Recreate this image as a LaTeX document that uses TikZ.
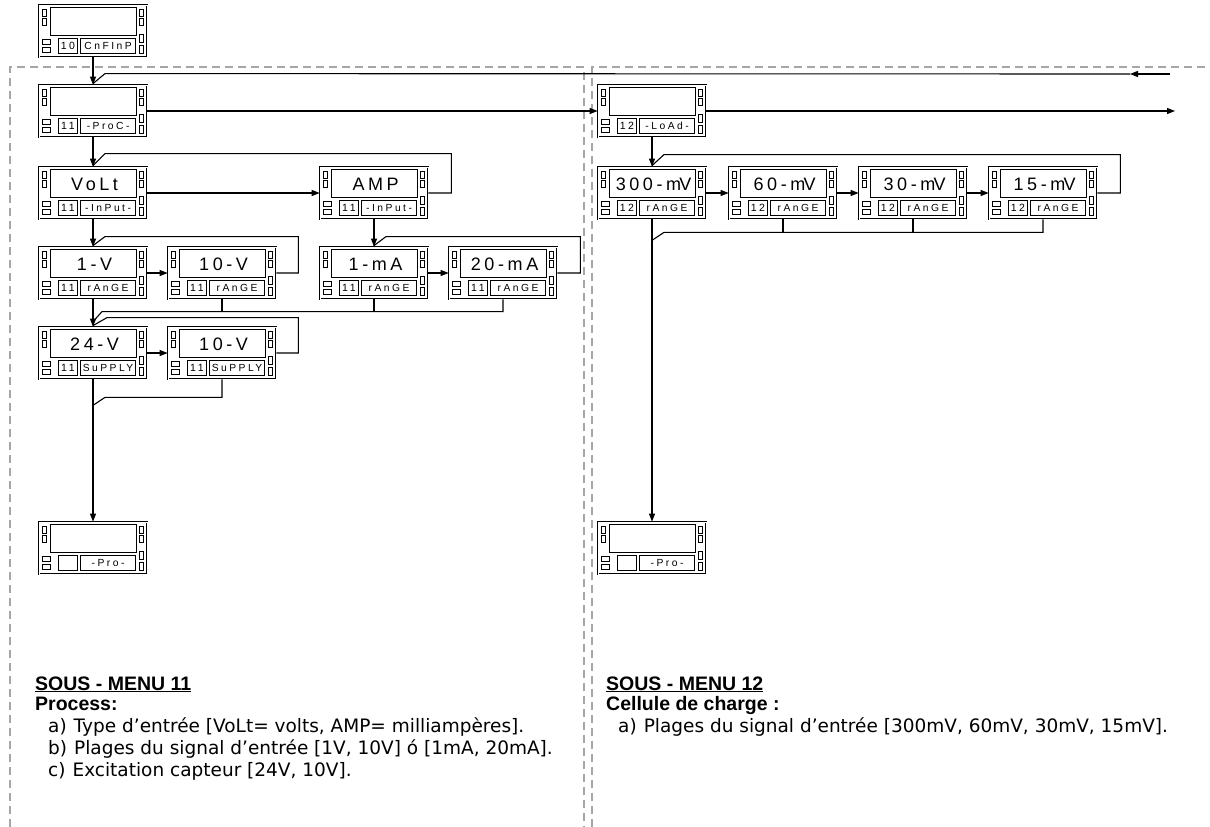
\documentclass[tikz,border=0pt]{standalone}
\usepackage{fontspec}
\setmainfont{DejaVu Sans}
\newfontfamily\lsans{Liberation Sans}
\newfontfamily\dispfont[LetterSpace=20]{Liberation Sans}
\newfontfamily\labfont[LetterSpace=24]{Liberation Sans}
\usetikzlibrary{arrows.meta,calc}
\tikzset{
  devbox/.style={draw, line width=0.8pt, double=white, double distance=0.9pt, minimum width=108pt, minimum height=52pt, inner sep=0pt},
  dispbox/.style={draw, line width=1.2pt},
  smallbox/.style={draw, line width=0.9pt},
  bigtxt/.style={font=\dispfont\fontsize{18}{18}\selectfont, inner sep=0pt, anchor=base},
  numtxt/.style={font=\labfont\fontsize{10.5}{10.5}\selectfont, inner sep=0pt, anchor=base},
  labtxt/.style={font=\labfont\fontsize{10.3}{10.3}\selectfont, inner sep=0pt, anchor=base},
  conn/.style={draw, line width=1.1pt},
  arr/.style={conn, -{Triangle[length=8pt,width=6pt]}},
  dframe/.style={draw=black!35, line width=1.1pt, dash pattern=on 8pt off 5pt},
  head/.style={font=\lsans\bfseries\fontsize{19.5}{19.5}\selectfont, anchor=base west, inner sep=0pt},
  body/.style={font=\fontsize{18.5}{18.5}\selectfont, anchor=base west, inner sep=0pt},
}
\newcommand\device[6]{%
  \node[devbox] (#1) at (#2+54,#3+26) {};
  \begin{scope}[shift={(#1.north west)}]
    \draw[dispbox] (11.5,2.5) rectangle (97.5,30.5);
    \draw[smallbox] (3.8,4.8) rectangle (7.8,11.8) (3.8,14) rectangle (7.8,21)
      (100.8,4.8) rectangle (104.8,11.8) (100.8,14) rectangle (104.8,21)
      (100.8,29.5) rectangle (104.8,38) (100.8,40.5) rectangle (104.8,49)
      (3.8,35) rectangle (12,40.3) (3.8,42.5) rectangle (12,47.8)
      (19.5,33.5) rectangle (38.5,49) (41.5,33.5) rectangle (96.5,49);
    \node[bigtxt] (#1-t) at (56,23.5) {#4};
    \node[numtxt] (#1-n) at (29.3,45.3) {#5};
    \node[labtxt] (#1-l) at (69.5,45.3) {#6};
  \end{scope}}
\begin{document}
\begin{tikzpicture}[x=1pt,y=-1pt]
\useasboundingbox (0,0) rectangle (1210,827);
% frames
\draw[dframe] (10,827) -- (10,67) -- (584,67) -- (584,827);
\draw[dframe] (592,827) -- (592,67) -- (1210,67);
% devices
\device{d10}{39}{5}{}{10}{CnFInP}
\device{d11}{39}{85}{}{11}{-ProC-}
\device{volt}{39}{167}{VoLt}{11}{-InPut-}
\device{amp}{320}{167}{AMP}{11}{-InPut-}
\device{v1}{39}{247}{1-V}{11}{rAnGE}
\device{v10}{168}{247}{10-V}{11}{rAnGE}
\device{ma1}{320}{247}{1-mA}{11}{rAnGE}
\device{ma20}{449}{247}{20-mA}{11}{rAnGE}
\device{s24}{39}{327}{24-V}{11}{SuPPLY}
\device{s10}{168}{327}{10-V}{11}{SuPPLY}
\device{pro1}{39}{522}{}{}{-Pro-}
\device{d12}{598}{85}{}{12}{-LoAd-}
\device{mv300}{598}{167}{300-m\kern-1.8pt V}{12}{rAnGE}
\device{mv60}{729}{167}{60-m\kern-1.8pt V}{12}{rAnGE}
\device{mv30}{859}{167}{30-m\kern-1.8pt V}{12}{rAnGE}
\device{mv15}{989}{167}{15-m\kern-1.8pt V}{12}{rAnGE}
\device{pro2}{598}{522}{}{}{-Pro-}
% top connectors
\draw[arr] (d10.south) -- (d11.north);
\coordinate (retR) at (1170,74);
\coordinate (retM) at (1130,74);
\draw[arr] (retR) -- (retM);
\draw[conn] (retM) -- ($(d11.north)+(12,-11)$) -- ($(d11.north)+(0,-1)$);
\draw[arr] (d11.east) -- (d12.west);
\coordinate (outR) at (1175,111);
\draw[arr] (d12.east) -- (outR);
% submenu 11
\draw[arr] (d11.south) -- (volt.north);
\draw[conn] (amp.east) -- ++(23,0) |- ($(volt.north)+(12,-13)$) -- ($(volt.north)+(0,-1)$);
\draw[arr] (volt.east) -- (amp.west);
\draw[arr] (volt.south) -- (v1.north);
\draw[conn] (v10.east) -- ++(22,0) |- ($(v1.north)+(12,-10)$) -- ($(v1.north)+(0,-1)$);
\draw[arr] (v1.east) -- (v10.west);
\draw[arr] (amp.south) -- (ma1.north);
\draw[conn] (ma20.east) -- ++(23,0) |- ($(ma1.north)+(12,-10)$) -- ($(ma1.north)+(0,-1)$);
\draw[arr] (ma1.east) -- (ma20.west);
\draw[arr] (v1.south) -- (s24.north);
\coordinate (colA) at ($(s24.north)+(9,-15)$);
\draw[conn] (ma20.south) |- (colA) -- ($(s24.north)+(0,-5)$);
\draw[conn] (v10.south) -- (v10.south |- colA);
\draw[conn] (ma1.south) -- (ma1.south |- colA);
\draw[conn] (s10.east) -- ++(22,0) |- ($(s24.north)+(14,-9)$) -- ($(s24.north)+(0,-1)$);
\draw[arr] (s24.east) -- (s10.west);
\draw[arr] (s24.south) -- (pro1.north);
\draw[conn] (s10.south) |- ($(s24.south)+(12,18)$) -- ($(s24.south)+(0,26)$);
% submenu 12
\draw[arr] (d12.south) -- (mv300.north);
\draw[conn] (mv15.east) -- ++(23,0) |- ($(mv300.north)+(12,-12)$) -- ($(mv300.north)+(0,-1)$);
\draw[arr] (mv300.east) -- (mv60.west);
\draw[arr] (mv60.east) -- (mv30.west);
\draw[arr] (mv30.east) -- (mv15.west);
\draw[arr] (mv300.south) -- (pro2.north);
\coordinate (colB) at ($(mv300.south)+(12,13)$);
\draw[conn] (mv15.south) |- (colB) -- ($(mv300.south)+(0,21)$);
\draw[conn] (mv60.south) -- (mv60.south |- colB);
\draw[conn] (mv30.south) -- (mv30.south |- colB);
% texts
\node[head] (h11) at (35,690) {\underline{SOUS - MENU 11}};
\node[head] (p11) at (35,710) {Process:};
\node[body] (a11) at (48,732) {a)\hspace{7pt}Type d’entrée [VoLt= volts, AMP= milliampères].};
\node[body] (b11) at (48,754) {b)\hspace{7pt}Plages du signal d’entrée [1V, 10V] ó [1mA, 20mA].};
\node[body] (c11) at (48,776) {c)\hspace{7pt}Excitation capteur [24V, 10V].};
\node[head] (h12) at (606,690) {\underline{SOUS - MENU 12}};
\node[head] (p12) at (606,710) {Cellule de charge :};
\node[body] (a12) at (618,732) {a)\hspace{7pt}Plages du signal d’entrée [300mV, 60mV, 30mV, 15mV].};
\end{tikzpicture}
\end{document}
